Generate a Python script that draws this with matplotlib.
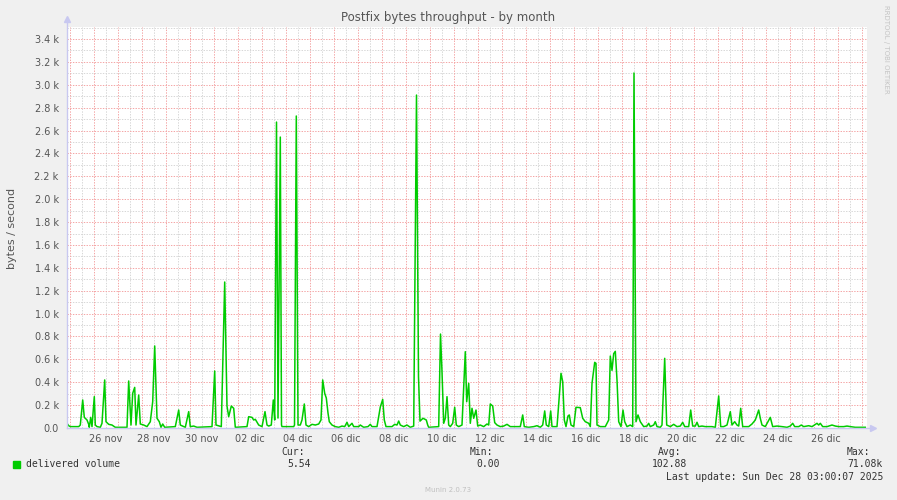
import matplotlib.pyplot as plt
from matplotlib.patches import Rectangle
import numpy as np

# horas desde el 25 nov 00:00 y bytes/segundo
horas = [-3, -1.3, 0.3, 8.7, 10.3, 12.7, 14.3, 17, 18.7, 19.3, 20.7, 22, 24.3, 25.3, 27, 30.3, 32, 34.7, 36,
         38.7, 42, 45.3, 57, 58.7, 61, 62.7, 64.7, 66, 68.7, 70.3, 73.7, 77, 80.3, 82.7, 84.7, 87, 89.3, 91,
         92.7, 94.7, 105.3, 108.7, 110.3, 115.3, 118.7, 120.3, 123.7, 127, 142, 144.7, 146, 151.3, 154.7,
         157, 158.7, 161.3, 163.7, 165.3, 177, 178.7, 182, 183.7, 185.3, 188.7, 192, 195, 197,
         198.7, 201.3, 203.3, 204.7, 206.5, 208, 210.3, 211.5, 212, 223.7, 224.5, 226.3, 228, 230.3, 232,
         234.3, 236, 238.7, 242, 245.3, 248.7, 251, 252.7, 254.7, 256.3, 258, 259.3, 262, 265.3, 268.7,
         272, 274.7, 277, 278.7, 282, 283.7, 288.7, 290.3, 293.7, 298, 300.3, 302, 307, 310.3, 312.7,
         314.3, 316, 322, 324.7, 327, 328.7, 330.3, 333.7, 337, 340.3, 343.7, 346.5, 348.5, 350, 353,
         356.3, 357.7, 358.7, 368.7, 370.5, 372, 373.7, 375.3, 377, 378.7, 380.3, 382.7, 384.7, 386.3,
         388.7, 392, 395.3,
         396.7, 398.7, 400.3, 402, 403.7, 406, 407.7, 410.3, 413.7, 417, 418.7, 420.3, 422.7, 424.7, 427,
         430.3, 433.7, 437, 440.3, 445.3, 450.3, 452.7, 454.3, 458.7, 463.7, 467, 470.3, 472.7, 474.7,
         476.3, 478.7, 480.7, 482, 487, 488.7, 491, 492.7, 494.3, 496, 498, 499.3, 501, 503.7, 506, 510.3,
         512.7, 515.3, 518.7, 520.3, 522, 524.7, 526, 527, 530.3, 535.3, 538.7, 540.3, 542, 543.7, 545.3,
         547, 548.7, 551, 553, 554.7, 557, 560.3, 562.7, 564, 566, 568, 570.3, 573.7, 577, 578.7, 580.3,
         583.7, 585.3, 587, 590.3, 592, 594.7, 596.7,
         600.3, 603.7, 607, 610.3, 612.7, 614.7, 618.7, 620.7, 622.7, 625.3, 627, 628.7, 632, 635.3,
         638.7, 642, 645.3, 648.7, 650.7, 653.7, 657, 660.3, 662, 664.7, 667, 668.7, 670.7, 672.7, 678.7,
         682, 685.3, 688.7, 690.3, 692, 695.3, 698, 700.3, 702.7, 707, 712, 717, 720.3, 722.7, 724.7,
         728.7, 731.3, 733.7, 738.7, 742, 747, 748.7, 750.3, 752.7, 757, 762, 765.3, 768.7, 773.7, 777,
         780.3, 785.3, 790.3, 795.3]
volumen = [41, 20, 12, 12, 26, 245, 93, 70, 32, 6, 93, 12, 274, 26, 12, 6, 41, 420, 55,
           32, 26, 6, 6, 411, 26, 303, 355, 26, 288, 35, 26, 12, 55, 230, 717, 85, 55, 6,
           35, 6, 12, 157, 26, 6, 143, 12, 17, 6, 12, 498, 26, 12, 1276,
           192, 99, 192, 172, 6, 12, 99, 93, 70, 76, 26, 12, 143, 26,
           17, 26, 245, 70, 2674, 87, 2543, 26, 12, 12, 26, 2727, 26, 26, 70,
           210, 26, 12, 32, 26, 35, 70, 420, 303, 262, 131, 55, 26, 12, 6,
           17, 12, 50, 12, 41, 12, 12, 26, 6, 12, 32, 12, 12, 183, 250,
           70, 12, 12, 32, 26, 61, 26, 12, 26, 6, 17, 2910, 449, 60, 85,
           70, 26, 6, 12, 821, 492, 41, 85, 274, 26, 12, 41, 181, 26,
           12, 26, 667,
           230, 390, 41, 172, 85, 157, 17, 26, 12, 35, 26, 210, 192, 47, 26,
           12, 17, 32, 12, 12, 12, 114, 12, 6, 12, 20, 6, 26, 149,
           26, 12, 149, 12, 12, 210, 478, 405, 70, 12, 105, 114, 26, 12, 181, 178,
           85, 55, 41, 12, 390, 574, 565, 26, 12, 12, 70, 629, 504, 650, 670,
           420, 55, 12, 157, 55, 12, 26, 12, 3103, 55, 114, 55, 12, 17, 41, 12,
           26, 55, 12, 6, 26, 609, 26,
           12, 32, 12, 17, 50, 12, 12, 157, 17, 17, 50, 12, 17, 12,
           12, 12, 6, 280, 12, 12, 26, 143, 26, 55, 26, 17, 172, 12, 12,
           35, 70, 157, 85, 26, 12, 55, 93, 12, 17, 12, 6, 17, 41, 12,
           12, 26, 12, 20, 12, 41, 26, 41, 12, 12, 26, 17, 12, 12, 17,
           12, 6, 6, 6]

etiquetas_x = ['26 nov', '28 nov', '30 nov', '02 dic', '04 dic', '06 dic', '08 dic', '10 dic',
               '12 dic', '14 dic', '16 dic', '18 dic', '20 dic', '22 dic', '24 dic', '26 dic']

leyenda = 'delivered volume'
resumen = [('Cur:', '5.54'), ('Min:', '0.00'), ('Avg:', '102.88'), ('Max:', '71.08k')]
ultima = 'Last update: Sun Dec 28 03:00:07 2025'

W, H = 897, 500
fig = plt.figure(figsize=(W / 100, H / 100), dpi=100, facecolor='#f0f0f0')
ax = fig.add_axes([67 / W, 72 / H, 800 / W, 401 / H])
ax.set_facecolor('white')

ax.set_xlim(-3, 797)
ax.set_ylim(0, 3505)

# rejilla
rojo = '#f4a4a4'
gris = '#d6d6d6'
for h in np.arange(12, 797, 24):
    ax.axvline(h, color=gris, lw=0.7, ls=(0, (1.4, 1.4)), zorder=1)
for v in np.arange(100, 3505, 200):
    ax.axhline(v, color=gris, lw=0.7, ls=(0, (1.4, 1.4)), zorder=1)
for h in np.arange(0, 797, 24):
    ax.axvline(h, color=rojo, lw=0.7, ls=(0, (1.4, 1.4)), zorder=2)
for v in np.arange(200, 3505, 200):
    ax.axhline(v, color=rojo, lw=0.7, ls=(0, (1.4, 1.4)), zorder=2)

ax.plot(horas, volumen, color='#00cc00', lw=1.1, zorder=5)

# ejes
for s in ax.spines.values():
    s.set_visible(False)
eje = '#c8c8f0'
ax.plot([0, 0], [0, 1.012], color=eje, lw=1, transform=ax.transAxes, clip_on=False, zorder=6)
ax.plot([0, 1.006], [0, 0], color=eje, lw=1, transform=ax.transAxes, clip_on=False, zorder=6)
ax.plot([0], [1.02], marker='^', ms=5, color=eje, transform=ax.transAxes, clip_on=False)
ax.plot([1.008], [0], marker='>', ms=5, color=eje, transform=ax.transAxes, clip_on=False)

yt = np.arange(0, 3401, 200)
ax.set_yticks(yt)
ax.set_yticklabels(['0.0' if v == 0 else f'{v / 1000:.1f} k' for v in yt])
ax.set_xticks(np.arange(36, 797, 48))
ax.set_xticklabels(etiquetas_x)
ax.tick_params(axis='both', labelsize=7, colors='#555555', length=0, pad=4)
ax.tick_params(axis='y', pad=6)

fig.text(12 / W, 1 - 228 / H, 'bytes / second', rotation=90, ha='center', va='center',
         fontsize=8, color='#555555')

fig.text(448 / W, 1 - 18 / H, 'Postfix bytes throughput - by month', ha='center', va='center',
         fontsize=8.5, color='#555555')
fig.text(886 / W, 1 - 5 / H, 'RRDTOOL / TOBI OETIKER', ha='center', va='top', rotation=270,
         fontsize=5, color='#c4c4c4')

mono = 'DejaVu Sans Mono'
fig.add_artist(Rectangle((13 / W, 1 - 468 / H), 7 / W, 7 / H, color='#00cc00',
                         transform=fig.transFigure))
fig.text(26 / W, 1 - 464 / H, leyenda, family=mono, fontsize=7, color='#333333', va='center')
pos = [(281, 287), (470, 476), (658, 652), (847, 847)]
for (cab, val), (x1, x2) in zip(resumen, pos):
    fig.text(x1 / W, 1 - 452 / H, cab, family=mono, fontsize=7, color='#333333', va='center')
    fig.text(x2 / W, 1 - 464 / H, val, family=mono, fontsize=7, color='#333333', va='center')
fig.text(883 / W, 1 - 477 / H, ultima, family=mono, fontsize=7, color='#333333', va='center', ha='right')
fig.text(448 / W, 1 - 490 / H, 'Munin 2.0.73', fontsize=5, color='#c0c0c0', ha='center', va='center')

fig.savefig('out.png', dpi=100, facecolor=fig.get_facecolor())
